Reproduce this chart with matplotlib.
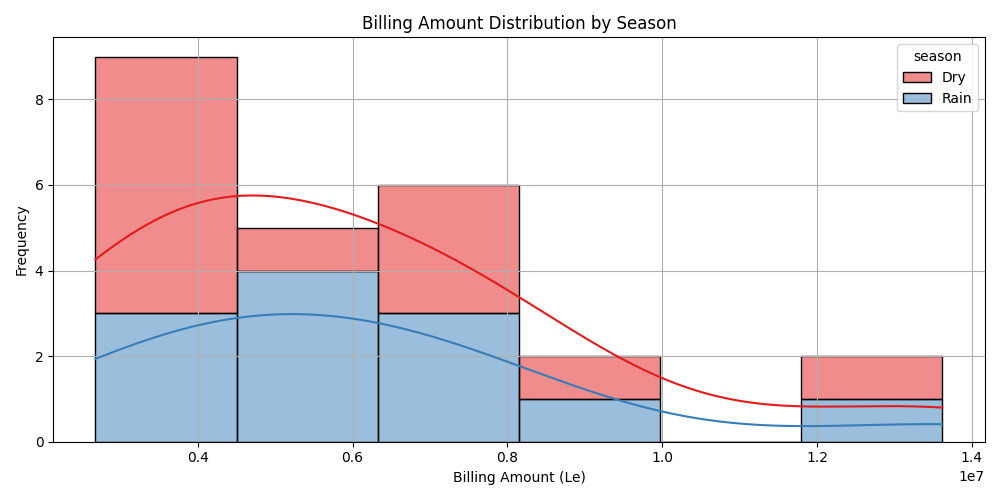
import matplotlib
matplotlib.use("Agg")
import matplotlib.pyplot as plt
import seaborn as sns
import pandas as pd

# billing amounts (Le) per record
dry_amounts = [2.68e6, 3.0e6, 3.4e6, 3.7e6, 4.0e6, 4.3e6,
               5.0e6, 6.6e6, 7.1e6, 7.7e6, 8.6e6, 13.0e6]
rain_amounts = [2.7e6, 3.0e6, 3.5e6, 4.55e6, 4.8e6, 5.2e6,
                5.7e6, 6.4e6, 6.9e6, 7.6e6, 8.5e6, 13.62e6]
seasons = ["Dry", "Rain"]

df = pd.DataFrame({
    "billing": dry_amounts + rain_amounts,
    "season": [seasons[0]] * len(dry_amounts) + [seasons[1]] * len(rain_amounts),
})

fig, ax = plt.subplots(figsize=(10, 5), dpi=100)
sns.histplot(data=df, x="billing", hue="season", hue_order=seasons,
             multiple="stack", kde=True, bins=6, palette="Set1", ax=ax)
ax.set_title("Billing Amount Distribution by Season")
ax.set_xlabel("Billing Amount (Le)")
ax.set_ylabel("Frequency")
ax.grid(True)
fig.tight_layout()
fig.savefig("out.png")
